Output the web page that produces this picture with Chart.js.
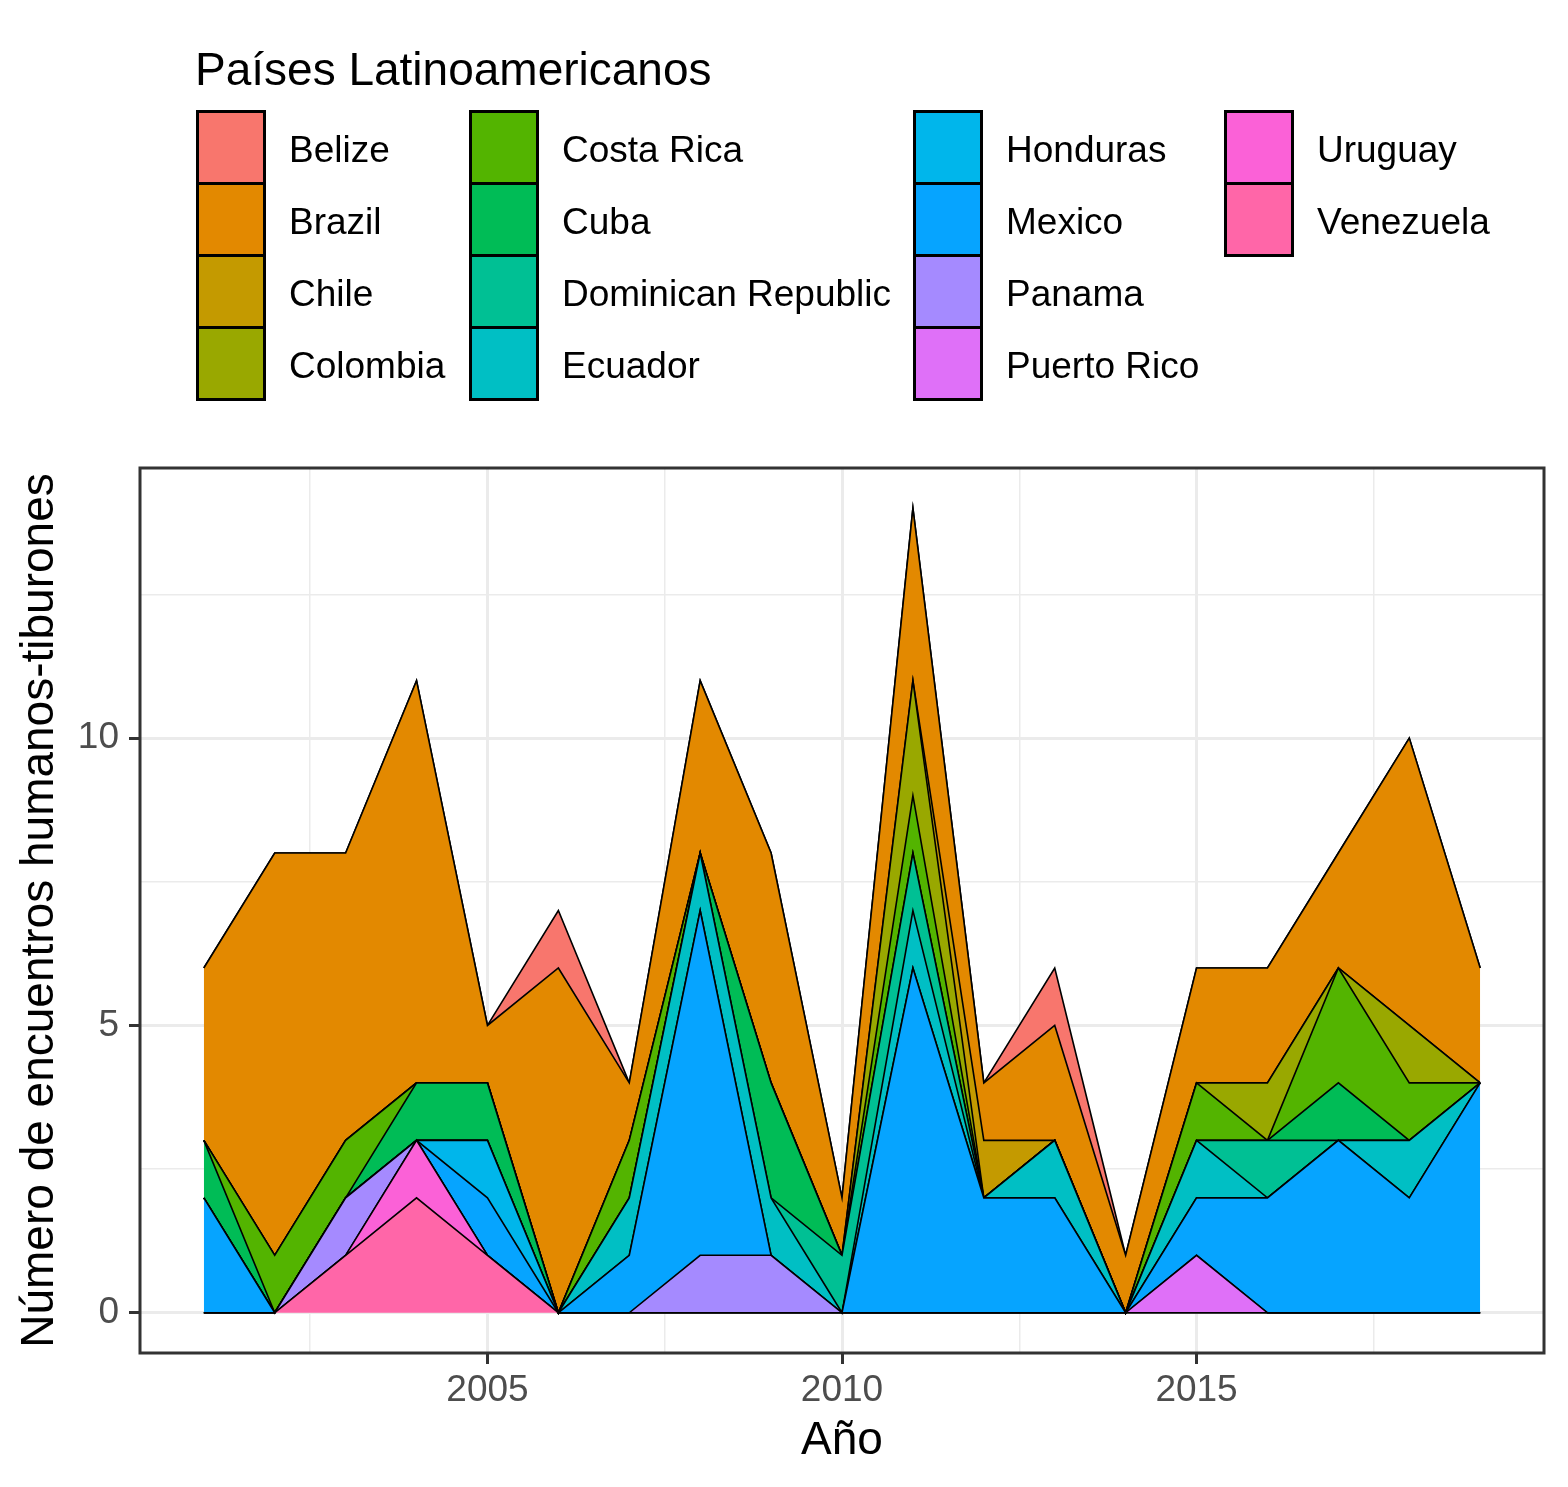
<!DOCTYPE html>
<html>
<head>
<meta charset="utf-8">
<script src="https://cdn.jsdelivr.net/npm/chart.js@4.4.0/dist/chart.umd.min.js"></script>
<style>
  html, body { margin: 0; padding: 0; background: #ffffff; }
  #wrap { position: relative; width: 1568px; height: 1487px; overflow: hidden; font-family: 'Liberation Sans', Arial, sans-serif; }
  #c { position: absolute; left: 0; top: 0; }
  .lg-title { position: absolute; left: 195px; top: 46px; font-size: 46px; line-height: 46px; color: #000; white-space: nowrap; }
  .lg-key { position: absolute; width: 70px; height: 75px; box-sizing: border-box; border: 3px solid #000; }
  .lg-lab { position: absolute; font-size: 37px; line-height: 72px; height: 72px; color: #000; white-space: nowrap; }
</style>
</head>
<body>
<div id="wrap">
  <canvas id="c" width="1568" height="1487"></canvas>
  <div id="legend"></div>
</div>
<script>
// ---------------- DATA ----------------
const years = [2001,2002,2003,2004,2005,2006,2007,2008,2009,2010,2011,2012,2013,2014,2015,2016,2017,2018,2019];

const belize     = [0,0,0,0,0,1,0,0,0,0,0,0,1,0,0,0,0,0,0];
const brazil     = [3,7,5,7,1,6,1,3,4,1,3,1,2,1,2,2,2,5,2];
const chile      = [0,0,0,0,0,0,0,0,0,0,0,1,0,0,0,0,0,0,0];
const colombia   = [0,0,0,0,0,0,0,0,0,0,2,0,0,0,0,1,0,1,0];
const costaRica  = [0,1,1,0,0,0,1,0,0,0,1,0,0,0,1,0,2,1,0];
const cuba       = [1,0,0,1,1,0,0,0,2,0,0,0,0,0,0,0,1,0,0];
const dominican  = [0,0,0,0,0,0,0,0,0,1,1,0,0,0,0,1,0,0,0];
const ecuador    = [0,0,0,0,0,0,1,1,1,0,1,0,1,0,1,0,0,1,0];
const honduras   = [0,0,0,0,1,0,0,0,0,0,0,0,0,0,0,0,0,0,0];
const mexico     = [2,0,0,0,1,0,1,6,0,0,6,2,2,0,1,2,3,2,4];
const panama     = [0,0,1,0,0,0,0,1,1,0,0,0,0,0,0,0,0,0,0];
const puertoRico = [0,0,0,0,0,0,0,0,0,0,0,0,0,0,1,0,0,0,0];
const uruguay    = [0,0,0,1,0,0,0,0,0,0,0,0,0,0,0,0,0,0,0];
const venezuela  = [0,0,1,2,1,0,0,0,0,0,0,0,0,0,0,0,0,0,0];

const countries = ['Belize','Brazil','Chile','Colombia','Costa Rica','Cuba','Dominican Republic','Ecuador','Honduras','Mexico','Panama','Puerto Rico','Uruguay','Venezuela'];
const seriesValues = [belize, brazil, chile, colombia, costaRica, cuba, dominican, ecuador, honduras, mexico, panama, puertoRico, uruguay, venezuela];
const colors = ['#F8766D','#E38900','#C49A00','#99A800','#53B400','#00BC56','#00C094','#00BFC4','#00B6EB','#06A4FF','#A58AFF','#DF70F8','#FB61D7','#FF66A8'];

const xMajorTicks = [2005, 2010, 2015];
const xMinorTicks = [2002.5, 2007.5, 2012.5, 2017.5];
const yMajorTicks = [0, 5, 10];
const yMinorTicks = [2.5, 7.5, 12.5];

const legendTitle = 'Países Latinoamericanos';
const xTitle = 'Año';
const yTitle = 'Número de encuentros humanos-tiburones';

// ---------------- LEGEND (HTML) ----------------
(function buildLegend() {
  const lg = document.getElementById('legend');
  const t = document.createElement('div');
  t.className = 'lg-title';
  t.textContent = legendTitle;
  lg.appendChild(t);
  const colKeyX = [196, 469, 913, 1224];
  const rowTop = [110, 182, 254, 326];
  countries.forEach((name, i) => {
    const col = Math.floor(i / 4), row = i % 4;
    const k = document.createElement('div');
    k.className = 'lg-key';
    k.style.left = colKeyX[col] + 'px';
    k.style.top = rowTop[row] + 'px';
    k.style.background = colors[i];
    lg.appendChild(k);
    const l = document.createElement('div');
    l.className = 'lg-lab';
    l.style.left = (colKeyX[col] + 93) + 'px';
    l.style.top = (rowTop[row] + 4) + 'px';
    l.textContent = name;
    lg.appendChild(l);
  });
})();

// ---------------- CHART ----------------
// bottom of the stack is the last factor level (Venezuela)
const datasets = [];
for (let i = countries.length - 1, k = 0; i >= 0; i--, k++) {
  datasets.push({
    label: countries[i],
    data: years.map((y, j) => ({ x: y, y: seriesValues[i][j] })),
    backgroundColor: colors[i],
    borderColor: '#000000',
    borderWidth: 1.6,
    pointRadius: 0,
    tension: 0,
    fill: k === 0 ? 'origin' : '-1'
  });
}

const isMajor = (v, list) => list.some(m => Math.abs(m - v) < 1e-9);

const panelBorder = {
  id: 'panelBorder',
  afterDatasetsDraw(chart) {
    const { ctx, chartArea: a } = chart;
    ctx.save();
    ctx.strokeStyle = '#333333';
    ctx.lineWidth = 3;
    ctx.strokeRect(a.left, a.top, a.right - a.left, a.bottom - a.top);
    ctx.restore();
  }
};

const FONT = "'Liberation Sans', Arial, sans-serif";

new Chart(document.getElementById('c'), {
  type: 'line',
  data: { datasets },
  plugins: [panelBorder],
  options: {
    responsive: false,
    animation: false,
    devicePixelRatio: 1,
    layout: { padding: { top: 468, right: 24, left: 0, bottom: 0 } },
    plugins: { legend: { display: false }, tooltip: { enabled: false } },
    elements: { line: { borderJoinStyle: 'miter' } },
    scales: {
      x: {
        type: 'linear',
        min: 2000.1,
        max: 2019.9,
        afterBuildTicks: s => { s.ticks = [...xMinorTicks, ...xMajorTicks].sort((a, b) => a - b).map(v => ({ value: v })); },
        afterFit: s => { s.height = 134; },
        border: { display: false },
        grid: {
          color: '#EBEBEB',
          lineWidth: c => isMajor(c.tick.value, xMajorTicks) ? 3 : 1.5,
          tickColor: c => isMajor(c.tick.value, xMajorTicks) ? '#333333' : 'rgba(0,0,0,0)',
          tickWidth: 3,
          tickLength: 11
        },
        ticks: {
          autoSkip: false,
          maxRotation: 0,
          padding: 5,
          color: '#4D4D4D',
          font: { family: FONT, size: 37 },
          callback: v => isMajor(v, xMajorTicks) ? String(v) : ''
        },
        title: {
          display: true,
          text: xTitle,
          color: '#000000',
          font: { family: FONT, size: 46 },
          padding: { top: 0, bottom: 18 }
        }
      },
      y: {
        type: 'linear',
        stacked: true,
        min: -0.7,
        max: 14.7,
        afterBuildTicks: s => { s.ticks = [...yMinorTicks, ...yMajorTicks].sort((a, b) => a - b).map(v => ({ value: v })); },
        afterFit: s => { s.width = 140; },
        border: { display: false },
        grid: {
          color: '#EBEBEB',
          lineWidth: c => isMajor(c.tick.value, yMajorTicks) ? 3 : 1.5,
          tickColor: c => isMajor(c.tick.value, yMajorTicks) ? '#333333' : 'rgba(0,0,0,0)',
          tickWidth: 3,
          tickLength: 11
        },
        ticks: {
          autoSkip: false,
          padding: 10,
          color: '#4D4D4D',
          font: { family: FONT, size: 37 },
          callback: v => isMajor(v, yMajorTicks) ? String(v) : ''
        },
        title: {
          display: true,
          text: yTitle,
          color: '#000000',
          font: { family: FONT, size: 46 },
          padding: { top: 13, bottom: 0 }
        }
      }
    }
  }
});
</script>
</body>
</html>
